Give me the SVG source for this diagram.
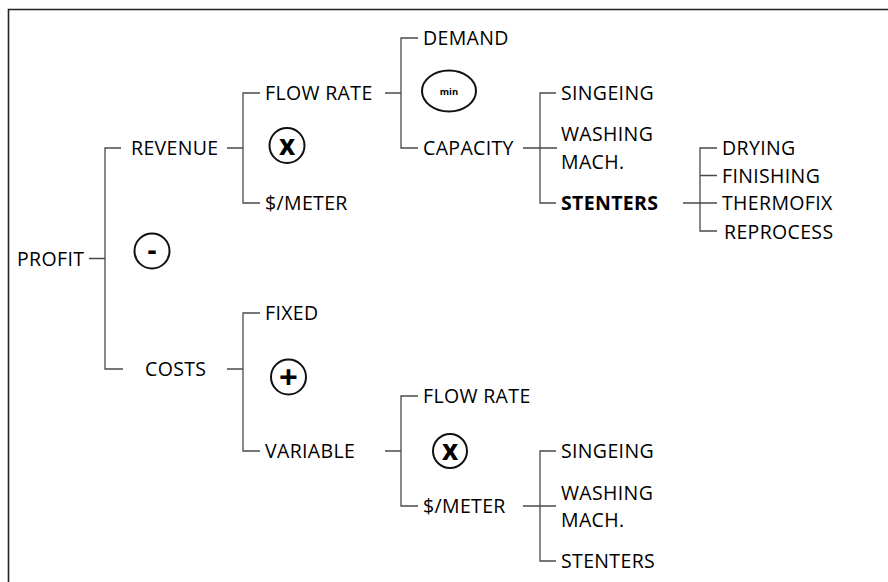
<svg xmlns="http://www.w3.org/2000/svg" width="888" height="582" viewBox="0 0 888 582">
<style>
text{font-family:"Open Sans","Liberation Sans",sans-serif;font-size:19.5px;fill:#000;letter-spacing:0.35px}
.b{font-weight:bold}
.op{fill:none;stroke:#111;stroke-width:2}
.opt{font-weight:bold;font-size:28px;text-anchor:middle;letter-spacing:0}
.c{fill:none;stroke:#4a4a4a;stroke-width:1.3}
</style>
<rect width="888" height="582" fill="#fff"/>
<path d="M8.5 582V9.5H888" fill="none" stroke="#222" stroke-width="1.6"/>
<g id="connectors" class="c">
<path d="M89 258.5H105M121 148H105V369H123"/>
<path d="M227 148H243M260 93H243V203H260"/>
<path d="M227 369H243M260 313H243V451H260"/>
<path d="M385 93H401M418 38H401V148H418"/>
<path d="M523 148H557M556 93H540V203H556"/>
<path d="M683 203H717M717 148H700V231H717M700 175.5H717"/>
<path d="M385 451H401M418 396H401V506H418"/>
<path d="M523 506H556M556 451H540V561H556"/>
</g>
<g id="profit"><text x="17" y="265.7">PROFIT</text></g>
<g id="revenue"><text x="131" y="155">REVENUE</text></g>
<g id="costs"><text x="145" y="376">COSTS</text></g>
<g id="op-minus"><circle class="op" cx="152" cy="251" r="17.5"/><text class="opt" x="152" y="260">-</text></g>
<g id="flowrate1"><text x="265" y="100">FLOW RATE</text></g>
<g id="op-times1"><circle class="op" cx="287" cy="145.5" r="17.5"/><text class="opt" x="287" y="154.5">x</text></g>
<g id="permeter1"><text x="265" y="210">$/METER</text></g>
<g id="fixed"><text x="265" y="320">FIXED</text></g>
<g id="op-plus"><circle class="op" cx="288.5" cy="377" r="17.5"/><text class="opt" x="288.5" y="388.5" style="font-size:33px">+</text></g>
<g id="variable"><text x="265" y="458">VARIABLE</text></g>
<g id="demand"><text x="423" y="45">DEMAND</text></g>
<g id="op-min"><ellipse class="op" cx="449" cy="91" rx="27" ry="20.5"/><text x="449" y="94.5" style="font-size:9.5px;font-weight:bold;text-anchor:middle;letter-spacing:0">min</text></g>
<g id="capacity"><text x="423" y="155">CAPACITY</text></g>
<g id="singeing1"><text x="561" y="100">SINGEING</text></g>
<g id="washing1"><text x="561" y="141">WASHING</text><text x="561" y="169">MACH.</text></g>
<g id="stenters1"><text class="b" x="561" y="210">STENTERS</text></g>
<g id="drying"><text x="722" y="155">DRYING</text></g>
<g id="finishing"><text x="722" y="182.5">FINISHING</text></g>
<g id="thermofix"><text x="722" y="210">THERMOFIX</text></g>
<g id="reprocess"><text x="724" y="239">REPROCESS</text></g>
<g id="flowrate2"><text x="423" y="403">FLOW RATE</text></g>
<g id="op-times2"><circle class="op" cx="450" cy="451" r="17"/><text class="opt" x="450" y="460">x</text></g>
<g id="permeter2"><text x="423" y="513">$/METER</text></g>
<g id="singeing2"><text x="561" y="458">SINGEING</text></g>
<g id="washing2"><text x="561" y="500">WASHING</text><text x="561" y="527">MACH.</text></g>
<g id="stenters2"><text x="561" y="568">STENTERS</text></g>
</svg>
